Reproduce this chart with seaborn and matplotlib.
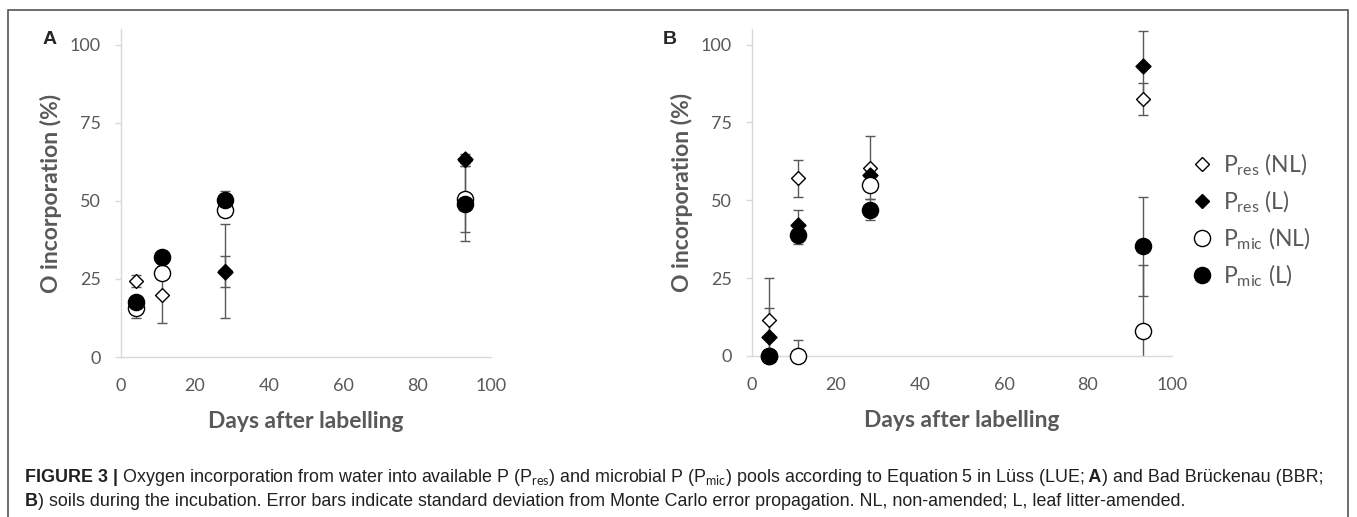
import matplotlib
matplotlib.use("Agg")
import pandas as pd
import matplotlib.pyplot as plt
from matplotlib.lines import Line2D
from matplotlib.patches import Rectangle
import seaborn as sns

# days after labelling
days = [4, 11, 28, 93]
series = ["Pres (NL)", "Pres (L)", "Pmic (NL)", "Pmic (L)"]

# panel A (LUE) - mean and SD (%)
a_pres_nl = [24.3, 20.0, 27.5, 63.0]
a_pres_nl_sd = [2.0, 9.2, 15.0, 1.0]
a_pres_l = [17.0, 31.0, 27.3, 63.5]
a_pres_l_sd = [1.0, 1.0, 5.0, 1.5]
a_pmic_nl = [15.6, 27.0, 47.0, 50.5]
a_pmic_nl_sd = [3.2, 1.0, 1.0, 10.5]
a_pmic_l = [17.6, 32.0, 50.2, 49.0]
a_pmic_l_sd = [1.0, 1.0, 2.8, 12.0]

# panel B (BBR) - mean and SD (%)
b_pres_nl = [11.5, 57.0, 60.5, 82.5]
b_pres_nl_sd = [13.5, 6.0, 10.0, 5.0]
b_pres_l = [6.0, 42.0, 58.0, 93.0]
b_pres_l_sd = [9.3, 5.0, 1.5, 11.5]
b_pmic_nl = [0.0, 0.0, 55.0, 8.0]
b_pmic_nl_sd = [0.0, 5.0, 1.0, 21.3]
b_pmic_l = [0.0, 38.7, 47.0, 35.2]
b_pmic_l_sd = [0.0, 2.7, 3.3, 15.8]

legend_labels = [r"P$_{\mathrm{res}}$ (NL)", r"P$_{\mathrm{res}}$ (L)",
                 r"P$_{\mathrm{mic}}$ (NL)", r"P$_{\mathrm{mic}}$ (L)"]

# build long table
rows = []
panel_data = {
    "A": [(a_pres_nl, a_pres_nl_sd), (a_pres_l, a_pres_l_sd),
          (a_pmic_nl, a_pmic_nl_sd), (a_pmic_l, a_pmic_l_sd)],
    "B": [(b_pres_nl, b_pres_nl_sd), (b_pres_l, b_pres_l_sd),
          (b_pmic_nl, b_pmic_nl_sd), (b_pmic_l, b_pmic_l_sd)],
}
for panel, lst in panel_data.items():
    for name, (vals, sds) in zip(series, lst):
        for d, v, s in zip(days, vals, sds):
            rows.append({"panel": panel, "day": d, "series": name, "value": v, "sd": s})
df = pd.DataFrame(rows)

# marker, face colour, scatter size
style = {
    "Pres (NL)": ("D", "white", 50),
    "Pres (L)": ("D", "black", 58),
    "Pmic (NL)": ("o", "white", 135),
    "Pmic (L)": ("o", "black", 135),
}

sns.set_style("white")
plt.rcParams["font.family"] = ["Lato", "DejaVu Sans"]
plt.rcParams["mathtext.fontset"] = "custom"
plt.rcParams["mathtext.rm"] = "Lato"

W, H = 1357, 517
fig = plt.figure(figsize=(W / 100, H / 100), dpi=100)
ax_a = fig.add_axes([121 / W, 1 - 357 / H, 370 / W, 328 / H])
ax_b = fig.add_axes([752 / W, 1 - 356 / H, 420 / W, 327 / H])

GREY = "#595959"
for panel, ax in [("A", ax_a), ("B", ax_b)]:
    sub = df[df["panel"] == panel]
    for name in series:
        s = sub[sub["series"] == name]
        ax.errorbar(s["day"], s["value"], yerr=s["sd"], fmt="none",
                    ecolor=GREY, elinewidth=1.0, capsize=3.3, capthick=1.0, zorder=2)
    for name in series:
        s = sub[sub["series"] == name]
        m, fc, size = style[name]
        sns.scatterplot(data=s, x="day", y="value", ax=ax, marker=m, color=fc,
                        edgecolor="black", linewidth=1.0, s=size, zorder=3,
                        clip_on=False, legend=False)

    ax.set_xlim(0, 100)
    ax.set_ylim(0, 105)
    ax.set_xticks([0, 20, 40, 60, 80, 100])
    ax.set_yticks([0, 25, 50, 75, 100])
    sns.despine(ax=ax)
    for sp in ["left", "bottom"]:
        ax.spines[sp].set_color("#d9d9d9")
        ax.spines[sp].set_linewidth(1.0)
    ax.tick_params(axis="y", left=True, length=4.3, width=1, color="#d9d9d9",
                   pad=10, labelsize=13, labelcolor=GREY)
    ax.tick_params(axis="x", bottom=False, length=0, pad=15,
                   labelsize=13, labelcolor=GREY)
    ax.set_xlabel("Days after labelling", fontsize=16.5, fontweight="bold",
                  color=GREY, labelpad=12)
    ax.set_ylabel("O incorporation (%)", fontsize=16.5, fontweight="bold",
                  color=GREY, labelpad=6)

# panel letters
fig.text(49.5 / W, 1 - 39 / H, "A", ha="center", va="center", fontsize=14,
         fontweight="bold", family="Liberation Sans")
fig.text(670 / W, 1 - 39 / H, "B", ha="center", va="center", fontsize=14,
         fontweight="bold", family="Liberation Sans")

# legend
handles = []
for name in series:
    m, fc, size = style[name]
    handles.append(Line2D([], [], ls="none", marker=m, markersize=size ** 0.5,
                          markerfacecolor=fc, markeredgecolor="black",
                          markeredgewidth=1.0))
fig.legend(handles, legend_labels, loc="center left",
           bbox_to_anchor=(1191 / W, 1 - 220 / H), frameon=False, fontsize=16.5,
           labelcolor=GREY, handlelength=0.95, handletextpad=0.45,
           labelspacing=0.45, borderpad=0, borderaxespad=0)

# frame around figure
fig.patches.append(Rectangle((8 / W, -0.02), 1340 / W, 1 - 10 / H + 0.02,
                             transform=fig.transFigure, fill=False,
                             edgecolor="#555555", linewidth=1.2))

# caption
renderer = fig.canvas.get_renderer()


def draw_runs(x_px, y, runs, size=12.9):
    for txt, weight in runs:
        t = fig.text(x_px / W, y, txt, fontsize=size, fontweight=weight,
                     family="Liberation Sans", color="#231f20", va="baseline")
        x_px += t.get_window_extent(renderer=renderer).width


draw_runs(25, 1 - 482 / H, [
    ("FIGURE 3 |", "bold"),
    (r" Oxygen incorporation from water into available P (P$_{\mathrm{res}}$) and microbial P "
     r"(P$_{\mathrm{mic}}$) pools according to Equation 5 in Lüss (LUE;", "normal"),
    (" A", "bold"),
    (") and Bad Brückenau (BBR;", "normal"),
])
draw_runs(25, 1 - 506 / H, [
    ("B", "bold"),
    (") soils during the incubation. Error bars indicate standard deviation from Monte Carlo "
     "error propagation. NL, non-amended; L, leaf litter-amended.", "normal"),
])

fig.savefig("out.png", dpi=100)
